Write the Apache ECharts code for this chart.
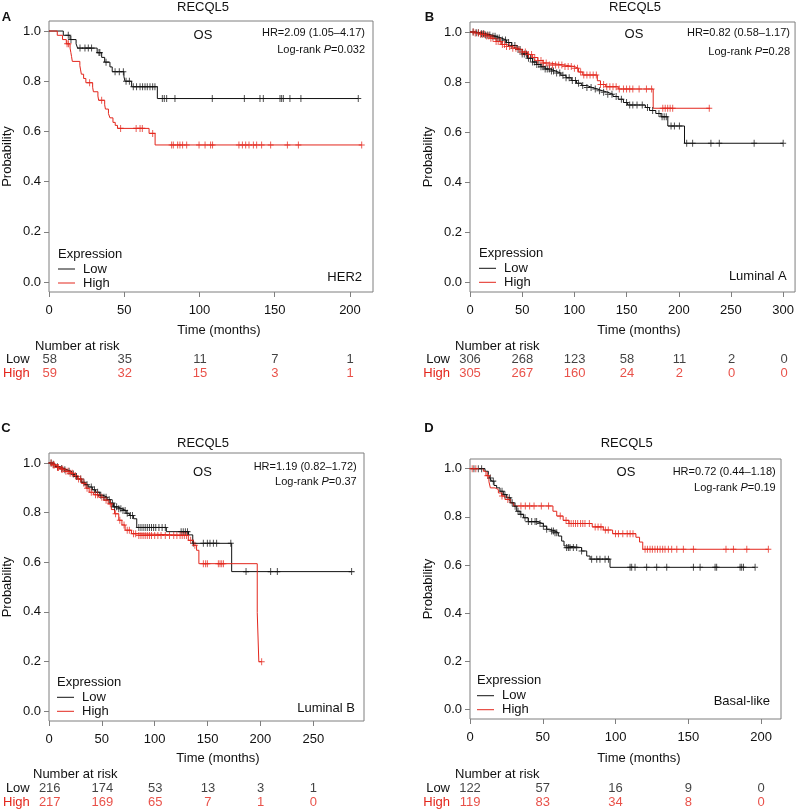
<!DOCTYPE html>
<html>
<head>
<meta charset="utf-8">
<script src="https://cdn.jsdelivr.net/npm/echarts@6/dist/echarts.min.js"></script>
<style>html,body{margin:0;padding:0;background:#fff}#c{width:797px;height:809px}</style>
</head>
<body>
<div id="c"></div>
<script>
// ---------------- DATA ----------------
const yTicks = [0, 0.2, 0.4, 0.6, 0.8, 1.0];
const riskRows = ['High', 'Low'];

// Panel A - HER2
const A_xTicks = [0, 50, 100, 150, 200];
const A_lowCurve = [[0,1],[9.5,0.983],[14.0,0.966],[18.0,0.949],[19.0,0.932],[32.0,0.914],[35.0,0.895],[37.0,0.876],[40.5,0.857],[42.0,0.838],[49.8,0.818],[50.5,0.800],[54.9,0.778],[72.0,0.731],[205.5,0.731]];
const A_highCurve = [[0,1],[5.5,0.983],[9.0,0.966],[11.5,0.949],[14.0,0.932],[14.5,0.915],[15.0,0.898],[15.5,0.879],[20.5,0.862],[21.0,0.845],[21.5,0.828],[23.0,0.811],[24.5,0.794],[29.0,0.776],[29.5,0.758],[32.5,0.741],[33.0,0.724],[37.0,0.706],[37.5,0.689],[39.5,0.671],[40.5,0.654],[42.5,0.636],[44.0,0.624],[45.5,0.612],[66.5,0.592],[70.5,0.546],[207.8,0.546]];
const A_lowCensor = [12.8,14.6,20.6,23.9,26.1,28.3,33.2,33.8,37.9,43.9,46.7,49.4,51.2,53.4,56.0,58.2,60.5,62.2,63.8,65.3,67.1,68.9,70.4,75.3,76.6,78.2,83.7,108.5,129.8,140.2,142.4,153.5,154.6,155.7,160.1,167.4,205.5];
const A_highCensor = [12.0,13.0,27.0,35.0,47.6,57.9,60.5,62.0,68.9,81.5,82.6,85.5,87.0,88.8,91.5,99.7,103.7,107.4,108.7,126.2,128.5,130.7,132.9,135.8,138.0,141.3,147.3,158.4,165.7,207.8];
const A_riskLow = [58, 35, 11, 7, 1];
const A_riskHigh = [59, 32, 15, 3, 1];

// Panel B - Luminal A
const B_xTicks = [0, 50, 100, 150, 200, 250, 300];
const B_lowCurve = [[0,1],[5,0.997],[10,0.993],[15,0.988],[20,0.983],[25,0.976],[30,0.968],[35,0.958],[40,0.946],[45,0.930],[50,0.912],[55,0.895],[60,0.880],[64,0.870],[68,0.861],[72,0.852],[77,0.844],[82,0.836],[87,0.827],[92,0.817],[97,0.806],[102,0.795],[107,0.786],[112,0.778],[117,0.772],[122,0.765],[127,0.759],[132,0.751],[137,0.742],[142,0.731],[147,0.718],[151,0.708],[168,0.698],[172,0.686],[178,0.674],[183,0.661],[189.5,0.624],[205.5,0.555],[300,0.555]];
const B_highCurve = [[0,1],[5,0.996],[10,0.991],[15,0.984],[20,0.975],[25,0.962],[30,0.950],[35,0.942],[40,0.935],[45,0.930],[50,0.920],[55,0.910],[60,0.898],[65,0.886],[70,0.876],[76,0.868],[90,0.862],[100,0.855],[104,0.840],[108,0.828],[122,0.805],[125,0.790],[130,0.781],[142,0.772],[175.5,0.695],[230,0.695]];
const B_lowCensor = [3,6,8,11,13,15,17,19,22,24,26,28,31,34,37,40,43,46,48,50,52,54,56,58,60,62,64,66,68,70,72,74,76,78,80,83,86,89,92,95,98,101,104,108,112,116,120,124,128,132,136,140,145,150,153,156,160,165,170,175,181,184,186,188,192.6,195.8,200.6,207.6,213.3,230.8,238.8,272.2,300];
const B_highCensor = [3,5,8,10,12,14,16,18,20,22,25,27,29,31,33,35,38,41,44,47,50,53,56,59,62,65,68,70,73,76,79,82,85,88,91,94,97,100,103,106,109,112,115,118,121,125,128,131,134,137,140,143,147,150,153,156,162,169,174,184.7,187,189.4,191.7,194.2,229.2];
const B_riskLow = [306, 268, 123, 58, 11, 2, 0];
const B_riskHigh = [305, 267, 160, 24, 2, 0, 0];

// Panel C - Luminal B
const C_xTicks = [0, 50, 100, 150, 200, 250];
const C_lowCurve = [[0,1],[3,0.995],[6,0.985],[10,0.978],[14,0.972],[17,0.966],[21,0.955],[24,0.945],[27,0.935],[31,0.922],[34,0.912],[37,0.903],[41,0.892],[44,0.882],[48,0.870],[51,0.862],[55,0.852],[58,0.838],[61,0.823],[65,0.815],[69,0.808],[73,0.797],[76,0.788],[80,0.775],[83,0.740],[111,0.723],[132,0.710],[136,0.676],[172.8,0.562],[286.3,0.562]];
const C_highCurve = [[0,1],[3,0.992],[7,0.982],[11,0.975],[15,0.966],[19,0.958],[23,0.948],[27,0.935],[31,0.918],[35,0.898],[38,0.882],[42,0.872],[47,0.862],[52,0.850],[56,0.835],[59,0.812],[62,0.795],[66,0.769],[69,0.750],[72,0.729],[78,0.715],[84,0.708],[131.8,0.688],[136.5,0.668],[139.6,0.648],[141.8,0.594],[197,0.397],[198.5,0.199],[201.2,0.199]];
const C_lowCensor = [2,4,8,12,15,19,23,26,30,33,36,40,43,46,49,52,54,57,60,62,64,66,68,70,72,74,77,79,85,87,89,91,93,95,97,99,101,104,107,110,125,127,129,131,136.5,146,149.8,152.3,155.5,158.6,172.0,186.4,209.7,216,286.3];
const C_highCensor = [2,4,5,8,9,12,13,16,18,20,22,25,28,30,33,36,40,44,46,50,54,58,63,67,71,74,76,80,82,85,87,89,91,93,95,97,100,103,106,110,114,118,121,124,126,128,130,134,138,146,148.2,149.8,160.2,161.8,163.4,165,201.2];
const C_riskLow = [216, 174, 53, 13, 3, 1];
const C_riskHigh = [217, 169, 65, 7, 1, 0];

// Panel D - Basal-like
const D_xTicks = [0, 50, 100, 150, 200];
const D_lowCurve = [[0,1],[10.3,0.989],[12.6,0.975],[13.7,0.961],[14.9,0.948],[16.5,0.930],[18.3,0.920],[20.6,0.906],[22.9,0.892],[25.2,0.879],[28,0.858],[30.2,0.844],[32.1,0.823],[34.4,0.810],[36.7,0.796],[40,0.780],[46,0.772],[50.4,0.761],[52.7,0.748],[55,0.741],[58.4,0.734],[60.7,0.720],[63,0.699],[64.6,0.679],[66.4,0.672],[76.7,0.658],[80.2,0.637],[82.5,0.624],[96.2,0.590],[195.9,0.590]];
const D_highCurve = [[0,1],[9.2,0.989],[11,0.971],[13,0.946],[14,0.920],[17.2,0.913],[19.5,0.899],[21.8,0.886],[24.1,0.872],[27.5,0.858],[30,0.845],[57,0.823],[59.6,0.803],[64,0.785],[68,0.772],[84,0.758],[91.6,0.745],[98,0.730],[114,0.715],[116.5,0.695],[118.7,0.665],[205,0.665]];
const D_lowCensor = [2.7,5.7,8,14,16,22,24,27,29,31,33,35,37.8,40.1,42.4,44.7,45.8,48.1,50.4,52.7,56.1,57.3,58.4,59.6,66.4,67.6,68.7,71,73.3,76.7,83.6,87.1,89.3,92.8,95.1,110,111.1,113.4,121.4,128.3,135.2,153.5,158.1,168.4,169.5,185.6,186.7,187.9,195.9];
const D_highCensor = [1.5,4,12,22,26,35,38,41,44,49,54,62,66,68,69.5,71,72.5,74,76,77.5,79,82,86,88,90,93,95,100,102,105,108,110,112,120.3,121.9,123.7,125.3,127.1,128.8,130.6,132.4,134,136.3,138.6,142.1,146.6,153.5,175.9,181,190.2,205];
const D_riskLow = [122, 57, 16, 9, 0];
const D_riskHigh = [119, 83, 34, 8, 0];

// ---------------- LAYOUT ----------------
const FONT = '"Liberation Sans", Arial, Helvetica, sans-serif';
const RED = '#e3261c';
const BLACK = '#111111';
const GRAY = '#7f7f7f';
const PLUS = 'path://M5,0L5,10M0,5L10,5';

const panels = [
  { letter:'A', sub:'HER2', hr:'HR=2.09 (1.05\u20134.17)', p:'0.032',
    grid:{left:49, top:21, width:324, height:271}, xMax:215.3, riskTop:352.3,
    xTicks:A_xTicks, low:A_lowCurve, high:A_highCurve, lowC:A_lowCensor, highC:A_highCensor, rLow:A_riskLow, rHigh:A_riskHigh,
    pos:{letter:[6.5,17.5], title:[203,7], os:[203,35], hrR:365, hrY:33.3, lrY:50, subR:362, subY:277.7, expr:[58,254], legend:[58,262.5], time:[219,330], nar:[35,346]} },
  { letter:'B', sub:'Luminal A', hr:'HR=0.82 (0.58\u20131.17)', p:'0.28',
    grid:{left:470, top:22, width:326, height:270}, xMax:311.4, riskTop:352.3,
    xTicks:B_xTicks, low:B_lowCurve, high:B_highCurve, lowC:B_lowCensor, highC:B_highCensor, rLow:B_riskLow, rHigh:B_riskHigh,
    pos:{letter:[429.5,17.5], title:[635,7], os:[634,34.7], hrR:790, hrY:33, lrY:51.7, subR:786.7, subY:276.7, expr:[479,253.3], legend:[479,261.8], time:[639,330], nar:[455,346]} },
  { letter:'C', sub:'Luminal B', hr:'HR=1.19 (0.82\u20131.72)', p:'0.37',
    grid:{left:49, top:453, width:315, height:268}, xMax:298, riskTop:781,
    xTicks:C_xTicks, low:C_lowCurve, high:C_highCurve, lowC:C_lowCensor, highC:C_highCensor, rLow:C_riskLow, rHigh:C_riskHigh,
    pos:{letter:[6,428.5], title:[203,443], os:[202.5,472.5], hrR:356.7, hrY:466.7, lrY:481.7, subR:355, subY:708.3, expr:[57,682.7], legend:[57,690.8], time:[218,758], nar:[33,774]} },
  { letter:'D', sub:'Basal-like', hr:'HR=0.72 (0.44\u20131.18)', p:'0.19',
    grid:{left:470, top:459, width:311, height:260}, xMax:213.7, riskTop:781,
    xTicks:D_xTicks, low:D_lowCurve, high:D_highCurve, lowC:D_lowCensor, highC:D_highCensor, rLow:D_riskLow, rHigh:D_riskHigh,
    pos:{letter:[429,428.5], title:[626.7,443.5], os:[626,472.5], hrR:775.7, hrY:471.7, lrY:488.3, subR:770, subY:701.7, expr:[477,680.7], legend:[477,689.2], time:[639,758], nar:[455,774]} }
];

function survAt(curve, t) {
  let p = curve[0][1];
  for (const pt of curve) { if (pt[0] <= t) p = pt[1]; else break; }
  return p;
}

const grids = [], xAxes = [], yAxes = [], series = [], legends = [], graphics = [];

function txt(x, y, text, size, align, extra) {
  graphics.push({
    type:'text', x:x, y:y, silent:true,
    style:Object.assign({ text:text, font: size + 'px ' + FONT, fill:BLACK, align:align || 'left', verticalAlign:'middle' }, (extra||{}))
  });
}

panels.forEach((pn) => {
  const gMain = grids.length;
  grids.push({ left:pn.grid.left, top:pn.grid.top, width:pn.grid.width, height:pn.grid.height,
    show:true, borderColor:GRAY, borderWidth:1, backgroundColor:'transparent', containLabel:false });
  const gRisk = grids.length;
  grids.push({ left:pn.grid.left, top:pn.riskTop, width:pn.grid.width, height:28, show:false, containLabel:false });

  xAxes.push({ gridIndex:gMain, type:'value', min:0, max:pn.xMax, position:'bottom',
    axisLine:{show:false, onZero:false}, splitLine:{show:false},
    axisTick:{show:true, length:5, customValues:pn.xTicks, lineStyle:{color:GRAY}},
    axisLabel:{customValues:pn.xTicks, margin:12, fontSize:13, fontFamily:FONT, color:BLACK} });
  xAxes.push({ gridIndex:gRisk, type:'value', min:0, max:pn.xMax, show:false, axisLine:{onZero:false} });

  yAxes.push({ gridIndex:gMain, type:'value', min:-0.04, max:1.04, position:'left',
    axisLine:{show:false, onZero:false}, splitLine:{show:false},
    axisTick:{show:true, length:5, customValues:yTicks, lineStyle:{color:GRAY}},
    axisLabel:{customValues:yTicks, margin:8, fontSize:13, fontFamily:FONT, color:BLACK, formatter:v => Number(v).toFixed(1)},
    name:'Probability', nameLocation:'middle', nameGap:35, nameRotate:90,
    nameTextStyle:{fontSize:13, fontFamily:FONT, color:BLACK} });
  yAxes.push({ gridIndex:gRisk, type:'category', data:riskRows, position:'left',
    axisLine:{show:false, onZero:false}, axisTick:{show:false}, splitLine:{show:false},
    axisLabel:{interval:0, margin:20, fontSize:13, fontFamily:FONT, color:(v) => v === 'High' ? RED : BLACK} });

  const xm = xAxes.length - 2, ym = yAxes.length - 2, xr = xAxes.length - 1, yr = yAxes.length - 1;

  [['Low', pn.low, pn.lowC, BLACK, pn.rLow], ['High', pn.high, pn.highC, RED, pn.rHigh]].forEach(([nm, curve, cens, col, risk]) => {
    series.push({ type:'line', name:nm, xAxisIndex:xm, yAxisIndex:ym, data:curve, step:'end',
      symbol:'none', color:col, lineStyle:{width:1, color:col}, silent:true, z:2 });
    series.push({ type:'scatter', name:nm + ' censored', xAxisIndex:xm, yAxisIndex:ym,
      data:cens.map(t => [t, survAt(curve, t)]), symbol:PLUS, symbolSize:[6,7],
      itemStyle:{color:'transparent', borderColor:col, borderWidth:1}, silent:true, z:3 });
    series.push({ type:'scatter', name:nm + ' at risk', xAxisIndex:xr, yAxisIndex:yr,
      data:pn.xTicks.map((t, k) => [t, nm, risk[k]]), symbolSize:1,
      itemStyle:{color:'transparent'}, silent:true,
      label:{show:true, position:'inside', formatter:p => String(p.data[2]), color:col, fontSize:13, fontFamily:FONT} });
  });

  legends.push({ data:['Low','High'], orient:'vertical', left:pn.pos.legend[0], top:pn.pos.legend[1],
    icon:'rect', itemWidth:17, itemHeight:1, itemGap:1, padding:0, selectedMode:false,
    textStyle:{fontSize:13, fontFamily:FONT, color:BLACK, lineHeight:13, padding:[0,0,0,3]} });

  const P = pn.pos;
  txt(P.letter[0], P.letter[1], pn.letter, 13, 'center', {font:'bold 13px ' + FONT});
  txt(P.title[0], P.title[1], 'RECQL5', 13, 'center');
  txt(P.os[0], P.os[1], 'OS', 13, 'center');
  txt(P.hrR, P.hrY, pn.hr, 11, 'right');
  txt(P.hrR, P.lrY, 'Log-rank {i|P}=' + pn.p, 11, 'right', {rich:{i:{fontStyle:'italic', fontSize:11, fontFamily:FONT}}});
  txt(P.subR, P.subY, pn.sub, 13, 'right');
  txt(P.expr[0], P.expr[1], 'Expression', 13, 'left');
  txt(P.time[0], P.time[1], 'Time (months)', 13, 'center');
  txt(P.nar[0], P.nar[1], 'Number at risk', 13, 'left');
});

const chart = echarts.init(document.getElementById('c'), null, {renderer:'canvas'});
chart.setOption({
  animation:false,
  backgroundColor:'#ffffff',
  grid:grids, xAxis:xAxes, yAxis:yAxes, series:series, legend:legends,
  graphic:{elements:graphics}
});
</script>
</body>
</html>
